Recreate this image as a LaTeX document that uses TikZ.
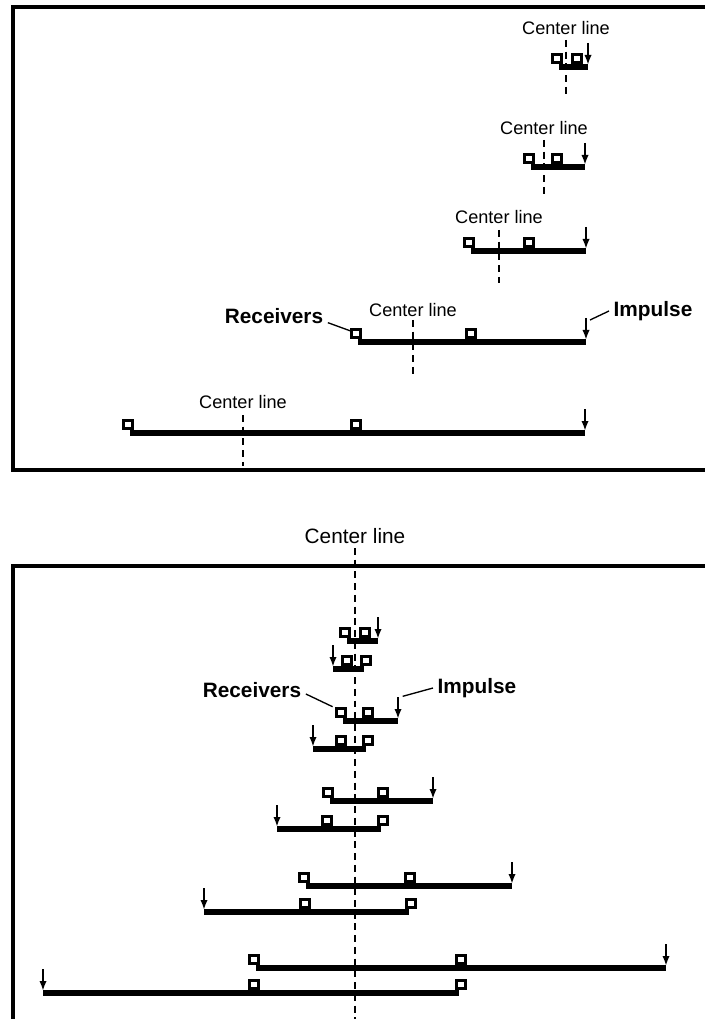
\documentclass[tikz,border=0pt]{standalone}
\usepackage{fontspec}
\setmainfont{Liberation Sans}
\usetikzlibrary{arrows.meta}
\tikzset{
  rcv/.style={draw, fill=white, line width=2.3pt, minimum size=6.4pt, inner sep=0pt},
  spread/.style={line width=4pt},
  cline/.style={line width=1.8pt, dash pattern=on 5.2pt off 3.6pt},
  imp/.style={-{Latex[length=7.5pt,width=5.5pt]}, line width=1.5pt},
  lead/.style={line width=1pt},
  frame/.style={line width=2.6pt},
  lbl/.style={font=\fontsize{13.6}{16}\selectfont},
  lblbig/.style={font=\fontsize{15.6}{18}\selectfont},
  blbl/.style={font=\bfseries\fontsize{15.6}{18}\selectfont}
}
\begin{document}
\begin{tikzpicture}[x=0.75pt, y=-0.75pt]
    \useasboundingbox (0,0) rectangle (704,1019);
    % upper panel: center line moves with the spread
    \draw[frame] (708,7) -- (13,7) -- (13,470) -- (708,470);
    \foreach \y/\ra/\rb/\im/\cl/\ly/\dt/\db/\n in {67/557/577/588/566/28/40/98/1,
        167/529/557/585/544/128/140/197/2, 251/469/529/586/499/217/230/283/3,
        342/356/471/586/413/310/320/378/4, 433/128/356/585/243/402/415/466/5}{
        \coordinate (ts\n) at (\ra+2,\y);
        \coordinate (te\n) at (\im,\y);
        \coordinate (ti\n) at (\im,\y-24);
        \draw[spread] (ts\n) -- (te\n);
        \node[rcv] (ta\n) at (\ra,\y-8.5) {};
        \node[rcv] (tb\n) at (\rb,\y-8.5) {};
        \draw[imp] (ti\n) -- ([yshift=1.5pt]te\n);
        \node[lbl] (tc\n) at (\cl,\ly) {Center line};
        \coordinate (ct\n) at (\cl,\dt);
        \coordinate (cb\n) at (\cl,\db);
        \draw[cline] (ct\n) -- (cb\n);
    }
    \node[blbl] (recv) at (274,316) {Receivers};
    \node[blbl] (impl) at (653,311) {Impulse};
    \draw[lead] ([yshift=-5pt]recv.east) -- ([yshift=2pt]ta4.west);
    \draw[lead] (impl.west) -- ([shift={(3pt,-1.5pt)}]ti4);

    % lower panel: common center line
    \draw[frame] (708,566) -- (13,566) -- (13,1025);
    \node[lblbig] (ctr) at (355,536) {Center line};
    \coordinate (ctrb) at (355,1025);
    \draw[cline] (355,548) -- (ctrb);
    \foreach \y/\ra/\rb/\im/\n in {641/345/365/378/1, 721/341/368/398/2,
        801/328/383/433/3, 886/304/410/512/4, 968/254/461/666/5}{
        \coordinate (bus\n) at (\ra+2,\y);
        \coordinate (bue\n) at (\im,\y);
        \coordinate (bui\n) at (\im,\y-24);
        \draw[spread] (bus\n) -- (bue\n);
        \node[rcv] (bua\n) at (\ra,\y-8.5) {};
        \node[rcv] (bub\n) at (\rb,\y-8.5) {};
        \draw[imp] (bui\n) -- ([yshift=1.5pt]bue\n);
    }
    \foreach \y/\ra/\rb/\im/\n in {669/347/366/333/1, 749/341/368/313/2,
        829/327/383/277/3, 912/305/411/204/4, 993/254/461/43/5}{
        \coordinate (bls\n) at (\im,\y);
        \coordinate (ble\n) at (\rb-2,\y);
        \coordinate (bli\n) at (\im,\y-24);
        \draw[spread] (bls\n) -- (ble\n);
        \node[rcv] (bla\n) at (\ra,\y-8.5) {};
        \node[rcv] (blb\n) at (\rb,\y-8.5) {};
        \draw[imp] (bli\n) -- ([yshift=1.5pt]bls\n);
    }
    \node[blbl] (recv2) at (252,690) {Receivers};
    \node[blbl] (impl2) at (477,688) {Impulse};
    \draw[lead] ([yshift=-3pt]recv2.east) -- ([xshift=-2pt]bua2.north west);
    \draw[lead] (impl2.west) -- ([shift={(3.5pt,0.5pt)}]bui2);
\end{tikzpicture}
\end{document}
